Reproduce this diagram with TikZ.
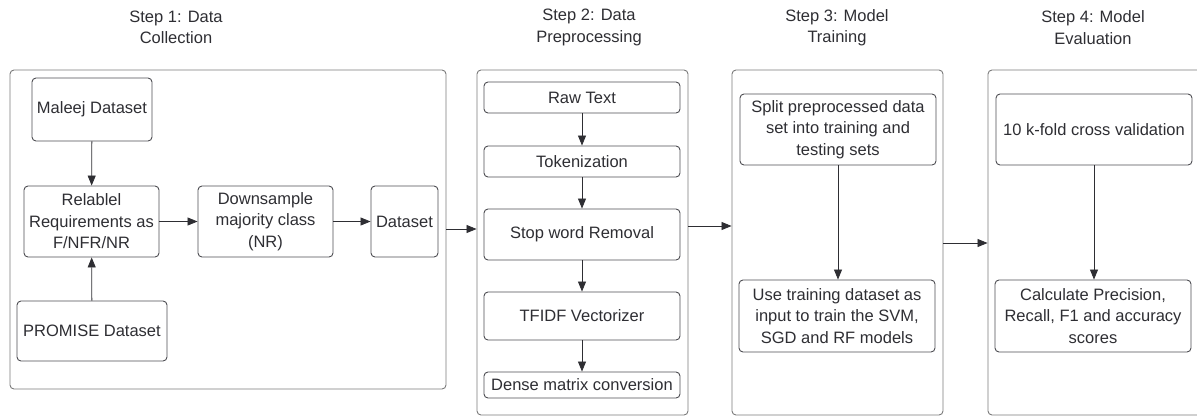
\documentclass[tikz,border=0pt]{standalone}
\usepackage{fontspec}
\setmainfont{Liberation Sans}
\usetikzlibrary{arrows.meta}
\definecolor{ink}{HTML}{2E2E33}
\definecolor{frame}{HTML}{7A7A7A}
\begin{document}
\begin{tikzpicture}[x=1pt,y=-1pt,
  every node/.style={font=\fontsize{16.5}{21.5}\selectfont, text=ink, inner sep=0pt, align=center},
  stage/.style={draw=frame, line width=0.9pt, rounded corners=4pt},
  stepbox/.style={draw=ink!85, line width=0.9pt, rounded corners=4pt},
  title/.style={text=ink},
  arr/.style={draw=ink, line width=0.8pt, -{Triangle[length=10pt,width=8pt]}}]
\useasboundingbox (0,0) rectangle (1197,416);
\clip (0,0) rectangle (1197,416);

% stage titles
\node[title] (t1) at (176,27.5) {Step 1: Data\\Collection};
\node[title] (t2) at (589,27.5) {Step 2: Data\\Preprocessing};
\node[title] (t3) at (837,27.5) {Step 3: Model\\Training};
\node[title] (t4) at (1093,27.5) {Step 4: Model\\Evaluation};

% stage frames
\node[stage, minimum width=436pt, minimum height=319pt] (c1) at (228,229.5) {};
\node[stage, minimum width=211pt, minimum height=345pt] (c2) at (582.5,242.5) {};
\node[stage, minimum width=211pt, minimum height=345pt] (c3) at (837.5,242.5) {};
\node[stage, minimum width=217pt, minimum height=345pt] (c4) at (1096.5,242.5) {};

% step 1
\node[stepbox, minimum width=120pt, minimum height=63pt] (maleej) at (92,109.5) {Maleej Dataset};
\node[stepbox, minimum width=135pt, minimum height=71pt] (relabel) at (91.5,221.5) {Relablel\\Requirements as\\F/NFR/NR};
\node[stepbox, minimum width=135pt, minimum height=71pt] (down) at (265.5,221.5) {Downsample\\majority class\\(NR)};
\node[stepbox, minimum width=67pt, minimum height=71pt] (data) at (404.5,221.5) {Dataset};
\node[stepbox, minimum width=150pt, minimum height=60pt] (promise) at (92,331) {PROMISE Dataset};

\draw[arr] (maleej) -- (relabel);
\draw[arr] (promise) -- (relabel);
\draw[arr] (relabel) -- (down);
\draw[arr] (down) -- (data);

% step 2
\node[stepbox, minimum width=196pt, minimum height=31pt] (raw) at (582,97.5) {Raw Text};
\node[stepbox, minimum width=196pt, minimum height=31pt] (tok) at (582,161.5) {Tokenization};
\node[stepbox, minimum width=196pt, minimum height=51pt] (stop) at (582,234.5) {Stop word Removal};
\node[stepbox, minimum width=196pt, minimum height=48pt] (tfidf) at (582,316) {TFIDF Vectorizer};
\node[stepbox, minimum width=196pt, minimum height=26pt] (dense) at (582,385) {Dense matrix conversion};

\draw[arr] (raw) -- (tok);
\draw[arr] (tok) -- (stop);
\draw[arr] (stop) -- (tfidf);
\draw[arr] (tfidf) -- (dense);

% step 3
\node[stepbox, minimum width=196pt, minimum height=71pt] (split) at (838,129.5) {Split preprocessed data\\set into training and\\testing sets};
\node[stepbox, minimum width=196pt, minimum height=72pt] (train) at (837,316) {Use training dataset as\\input to train the SVM,\\SGD and RF models};
\draw[arr] (split.south) -- (train.north -| split.south);

% step 4
\node[stepbox, minimum width=196pt, minimum height=71pt] (kfold) at (1094,129.5) {10 k-fold cross validation};
\node[stepbox, minimum width=196pt, minimum height=72pt] (calc) at (1093,316) {Calculate Precision,\\Recall, F1 and accuracy\\scores};
\draw[arr] (kfold.south) -- (calc.north -| kfold.south);

% links between stages
\draw[arr] (c1.east |- 0,229) -- (c2.west |- 0,229);
\draw[arr] (c2.east |- 0,226) -- (c3.west |- 0,226);
\draw[arr] (c3.east |- 0,243) -- (c4.west |- 0,243);
\end{tikzpicture}
\end{document}
